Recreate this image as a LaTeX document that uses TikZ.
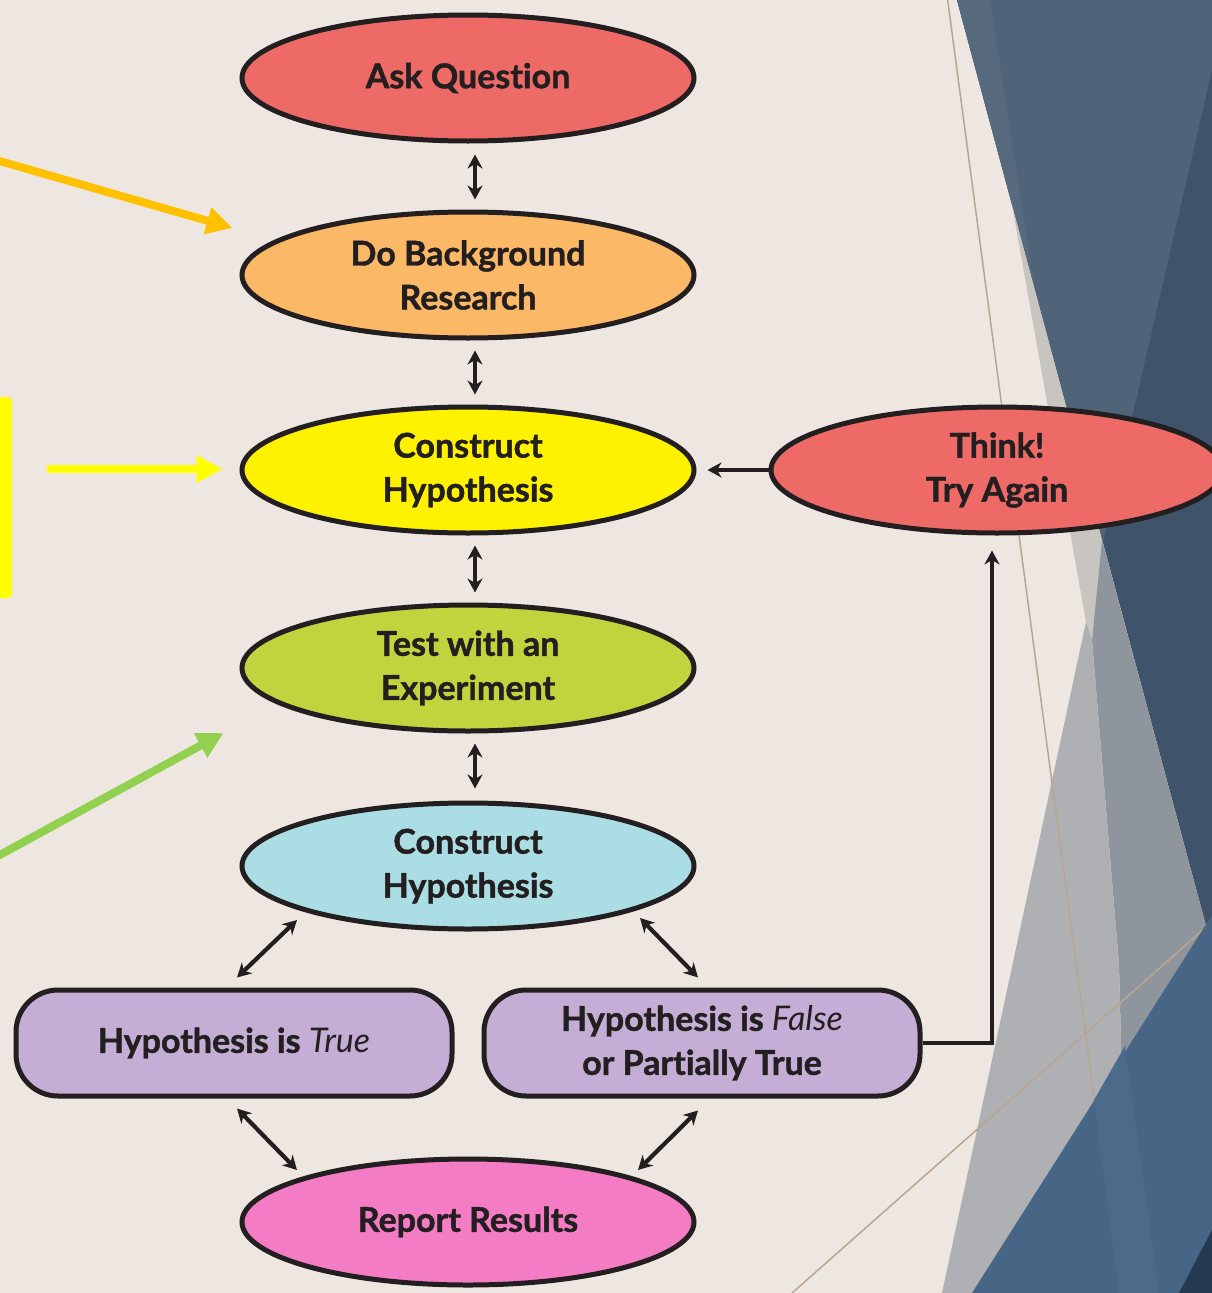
\documentclass[tikz,border=0pt]{standalone}
\usepackage{fontspec}
\setmainfont{Lato}[Ligatures=NoCommon, BoldFeatures={FakeBold=1.3}]
\usetikzlibrary{shapes.geometric,arrows.meta,calc}

\definecolor{paper}{HTML}{EEE7E1}
\definecolor{slate}{HTML}{4F6479}
\definecolor{slatelight}{HTML}{57697D}
\definecolor{slatedark}{HTML}{3F536A}
\definecolor{greypale}{HTML}{C8C5C1}
\definecolor{greymid}{HTML}{AEB0B3}
\definecolor{greydark}{HTML}{8F959C}
\definecolor{seablue}{HTML}{476685}
\definecolor{seastrip}{HTML}{4C6B8A}
\definecolor{navy}{HTML}{243A52}
\definecolor{hairline}{HTML}{B9A690}
\definecolor{ink}{HTML}{231F20}
\definecolor{coral}{HTML}{EE6A66}
\definecolor{apricot}{HTML}{FBB866}
\definecolor{lemon}{HTML}{FFF200}
\definecolor{lime}{HTML}{C1D43E}
\definecolor{sky}{HTML}{ABDDE4}
\definecolor{lavender}{HTML}{C5AED6}
\definecolor{rose}{HTML}{F47CC4}
\definecolor{amber}{HTML}{FFC000}
\definecolor{brightyellow}{HTML}{FFFF00}
\definecolor{leaf}{HTML}{92D050}

\tikzset{
  bubble/.style={ellipse, draw=ink, line width=5pt, minimum width=452pt,
    minimum height=126pt, inner sep=0pt, align=center, text=ink,
    font=\fontsize{34}{44}\selectfont\bfseries},
  outcome/.style={rounded corners=42pt, draw=ink, line width=5pt, fill=lavender,
    minimum width=436pt, minimum height=106pt, inner sep=0pt, align=center,
    text=ink, font=\fontsize{34}{44}\selectfont\bfseries},
  link/.style={draw=ink, line width=4.2pt,
    {Stealth[length=14pt,width=15pt]}-{Stealth[length=14pt,width=15pt]}},
  oneway/.style={draw=ink, line width=4.2pt, -{Stealth[length=14pt,width=15pt]}},
  pointer/.style={line width=8pt, -{Triangle[length=26pt,width=26pt]}},
}

\begin{document}
\begin{tikzpicture}[x=1pt,y=-1pt]
\useasboundingbox (0,0) rectangle (1212,1293);
\clip (0,0) rectangle (1212,1293);

% backdrop
\fill[paper] (0,0) rectangle (1212,1293);
\fill[slatedark] (957,0) -- (1212,0) -- (1212,948) -- cycle;
\fill[slate] (957,0) -- (1212,0) -- (1212,70) -- (1103,543) -- cycle;
\fill[slatelight] (957,0) -- (990,0) -- (1035,290) -- cycle;
\fill[greypale] (1012,205) -- (1086,622) -- (1092,640) -- (1102,540) -- cycle;
\fill[greydark] (1102,540) -- (1212,948) -- (1212,1200) -- (1125,1200) -- (1119,965) -- (1092,640) -- cycle;
\fill[greymid] (1086,622) -- (1092,640) -- (1119,965) -- (1125,1200) -- (1000,1293) -- (942,1293) -- cycle;
\draw[hairline, line width=1.5pt] (947,-5) -- (1120,1293);
\draw[hairline, line width=1.5pt] (1222,913) -- (792,1293);
\fill[seablue] (972,1293) -- (1212,915) -- (1212,1293) -- cycle;
\fill[seastrip] (1094,1100) -- (1125,1046) -- (1159,1293) -- (1119,1293) -- cycle;
\fill[navy] (1179,1293) -- (1212,1230) -- (1212,1293) -- cycle;

% flow chart
\node[bubble, fill=coral]   (ask)    at (468,78)   {Ask Question};
\node[bubble, fill=apricot] (bg)     at (468,275)  {Do Background\\Research};
\node[bubble, fill=lemon]   (hyp)    at (468,470)  {Construct\\Hypothesis};
\node[bubble, fill=lime]    (test)   at (468,668)  {Test with an\\Experiment};
\node[bubble, fill=sky]     (hyp2)   at (468,866)  {Construct\\Hypothesis};
\node[bubble, fill=rose]    (report) at (468,1222) {Report Results};
\node[bubble, fill=coral]   (think)  at (997,470)  {Think!\\Try Again};
\node[outcome] (true)  at (234,1043) {Hypothesis is {\mdseries\itshape True}};
\node[outcome] (false) at (702,1043) {Hypothesis is {\mdseries\itshape False}\\or Partially True};

\draw[link] ($(ask.south)+(7,11)$)  -- ($(bg.north)+(7,-10)$);
\draw[link] ($(bg.south)+(7,10)$)   -- ($(hyp.north)+(7,-10)$);
\draw[link] ($(hyp.south)+(7,10)$)  -- ($(test.north)+(7,-10)$);
\draw[link] ($(test.south)+(7,10)$) -- ($(hyp2.north)+(7,-12)$);
\draw[link] ($(hyp2.center)+(-171,54)$) -- ($(true.north)+(3,-10)$);
\draw[link] ($(hyp2.center)+(172,52)$)  -- ($(false.north)+(-4,-10)$);
\draw[link] ($(true.south)+(3,10)$)     -- ($(report.center)+(-171,-52)$);
\draw[link] ($(false.south)+(-4,12)$)   -- ($(report.center)+(170,-52)$);
\draw[oneway] (think.west) -- ($(hyp.east)+(11,0)$);
\draw[oneway] (false.east) -| ($(think.south)+(-5,15)$);

% margin pointers
\coordinate (amberfrom) at (-4,160);
\coordinate (yellowfrom) at (47,469);
\coordinate (leaffrom) at (-4,857);
\fill[brightyellow, rounded corners=4pt] (-10,397) rectangle (12,598);
\draw[pointer, amber] (amberfrom) -- ($(bg.west)+(-7,-47)$);
\draw[pointer, brightyellow] (yellowfrom) -- ($(hyp.west)+(-17,-1)$);
\draw[pointer, leaf] (leaffrom) -- ($(test.west)+(-16,65)$);
\end{tikzpicture}
\end{document}
